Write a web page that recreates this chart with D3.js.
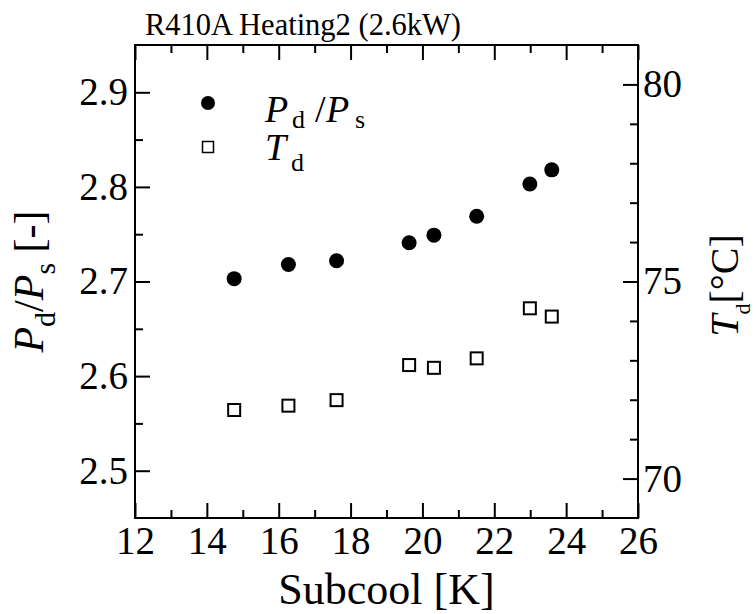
<!DOCTYPE html>
<html>
<head>
<meta charset="utf-8">
<script src="https://cdn.jsdelivr.net/npm/d3@7"></script>
<style>
  body { margin: 0; background: #fff; }
  text { font-family: "Liberation Serif", "Times New Roman", serif; fill: #000; }
</style>
</head>
<body>
<script>
// data
var subcool = [14.76, 16.27, 17.61, 19.63, 20.32, 21.51, 22.99, 23.6];
var pressRatio = [2.703, 2.718, 2.722, 2.741, 2.749, 2.769, 2.803, 2.818];
var tDischarge = [71.74, 71.85, 71.99, 72.88, 72.81, 73.05, 74.32, 74.11];

var xTicks = [12, 14, 16, 18, 20, 22, 24, 26];
var leftTicks = [2.5, 2.6, 2.7, 2.8, 2.9];
var rightTicks = [70, 75, 80];

var width = 756,
    height = 614;

// plot frame (not "top": that name is taken by window.top)
var pL = 135, pR = 638, pT = 45, pB = 518;

var x = d3.scaleLinear().domain([12, 26]).range([pL, pR]);
var yL = d3.scaleLinear().domain([2.45, 2.95]).range([pB, pT]);
var yR = d3.scaleLinear().domain([69, 81]).range([pB, pT]);

var svg = d3.select("body").append("svg")
    .attr("width", width)
    .attr("height", height);

function styleAxis(g) {
  g.select(".domain").remove();
  g.selectAll(".tick line").attr("stroke", "#000").attr("stroke-width", 2);
  g.selectAll("text").attr("font-size", 39).attr("font-family", "Liberation Serif, serif");
}

// minor ticks first
svg.append("g").attr("transform", "translate(0," + pB + ")")
    .call(d3.axisBottom(x).tickValues(d3.range(13, 26, 2)).tickSize(-8).tickFormat(""))
    .call(styleAxis);
svg.append("g").attr("transform", "translate(0," + pT + ")")
    .call(d3.axisTop(x).tickValues(d3.range(13, 26, 2)).tickSize(-8).tickFormat(""))
    .call(styleAxis);
svg.append("g").attr("transform", "translate(" + pL + ",0)")
    .call(d3.axisLeft(yL).tickValues([2.55, 2.65, 2.75, 2.85]).tickSize(-8).tickFormat(""))
    .call(styleAxis);
svg.append("g").attr("transform", "translate(" + pR + ",0)")
    .call(d3.axisRight(yR).tickValues([71, 72, 73, 74, 76, 77, 78, 79]).tickSize(-8).tickFormat(""))
    .call(styleAxis);

// major ticks
svg.append("g").attr("transform", "translate(0," + pB + ")")
    .call(d3.axisBottom(x).tickValues(xTicks).tickSize(-15).tickPadding(8).tickFormat(d3.format("d")))
    .call(styleAxis);
svg.append("g").attr("transform", "translate(0," + pT + ")")
    .call(d3.axisTop(x).tickValues(xTicks).tickSize(-15).tickFormat(""))
    .call(styleAxis);
svg.append("g").attr("transform", "translate(" + pL + ",0)")
    .call(d3.axisLeft(yL).tickValues(leftTicks).tickSize(-15).tickPadding(7).tickFormat(d3.format(".1f")))
    .call(styleAxis);
svg.append("g").attr("transform", "translate(" + pR + ",0)")
    .call(d3.axisRight(yR).tickValues(rightTicks).tickSize(-15).tickPadding(5).tickFormat(d3.format("d")))
    .call(styleAxis);

// frame
svg.append("rect")
    .attr("x", pL).attr("y", pT)
    .attr("width", pR - pL).attr("height", pB - pT)
    .attr("fill", "none").attr("stroke", "#000").attr("stroke-width", 2);

// P_d / P_s points
svg.selectAll("circle.pr")
    .data(subcool)
  .enter().append("circle")
    .attr("class", "pr")
    .attr("cx", function(d) { return x(d); })
    .attr("cy", function(d, i) { return yL(pressRatio[i]); })
    .attr("r", 7.5)
    .attr("fill", "#000");

// T_d points
svg.selectAll("rect.td")
    .data(subcool)
  .enter().append("rect")
    .attr("class", "td")
    .attr("x", function(d) { return x(d) - 6; })
    .attr("y", function(d, i) { return yR(tDischarge[i]) - 6; })
    .attr("width", 12).attr("height", 12)
    .attr("fill", "#fff").attr("stroke", "#000").attr("stroke-width", 2);

// title
svg.append("text")
    .attr("x", 145).attr("y", 35)
    .attr("font-size", 30.5)
    .text("R410A Heating2 (2.6kW)");

// x label
svg.append("text")
    .attr("x", (pL + pR) / 2).attr("y", 604)
    .attr("text-anchor", "middle")
    .attr("font-size", 44)
    .text("Subcool [K]");

// left label
var ll = svg.append("text")
    .attr("transform", "translate(43," + ((pT + pB) / 2) + ") rotate(-90)")
    .attr("text-anchor", "middle")
    .attr("font-size", 42);
ll.append("tspan").attr("font-style", "italic").text("P");
ll.append("tspan").attr("font-size", 30).attr("dy", 12).text("d");
ll.append("tspan").attr("dy", -12).text("/");
ll.append("tspan").attr("font-style", "italic").text("P");
ll.append("tspan").attr("font-size", 30).attr("dy", 12).text("s");
ll.append("tspan").attr("dy", -12).text(" [-]");

// right label
var rl = svg.append("text")
    .attr("transform", "translate(738," + ((pT + pB) / 2 + 4) + ") rotate(-90)")
    .attr("text-anchor", "middle")
    .attr("font-size", 40);
rl.append("tspan").attr("font-style", "italic").text("T");
rl.append("tspan").attr("font-size", 22).attr("dy", 12).text("d");
rl.append("tspan").attr("dy", -12).text("[°C]");

// legend
svg.append("circle").attr("cx", 208).attr("cy", 103).attr("r", 7).attr("fill", "#000");
svg.append("rect").attr("x", 202.5).attr("y", 141.5).attr("width", 11).attr("height", 11)
    .attr("fill", "#fff").attr("stroke", "#000").attr("stroke-width", 1.5);

var lg1 = svg.append("text").attr("x", 265).attr("y", 122).attr("font-size", 38);
lg1.append("tspan").attr("font-style", "italic").text("P");
lg1.append("tspan").attr("x", 292).attr("dy", 6).attr("font-size", 26).text("d");
lg1.append("tspan").attr("x", 315).attr("dy", -6).text("/");
lg1.append("tspan").attr("x", 326).attr("font-style", "italic").text("P");
lg1.append("tspan").attr("x", 355).attr("dy", 6).attr("font-size", 26).text("s");

var lg2 = svg.append("text").attr("x", 265).attr("y", 160).attr("font-size", 38);
lg2.append("tspan").attr("font-style", "italic").text("T");
lg2.append("tspan").attr("x", 291).attr("dy", 11).attr("font-size", 26).text("d");
</script>
</body>
</html>
